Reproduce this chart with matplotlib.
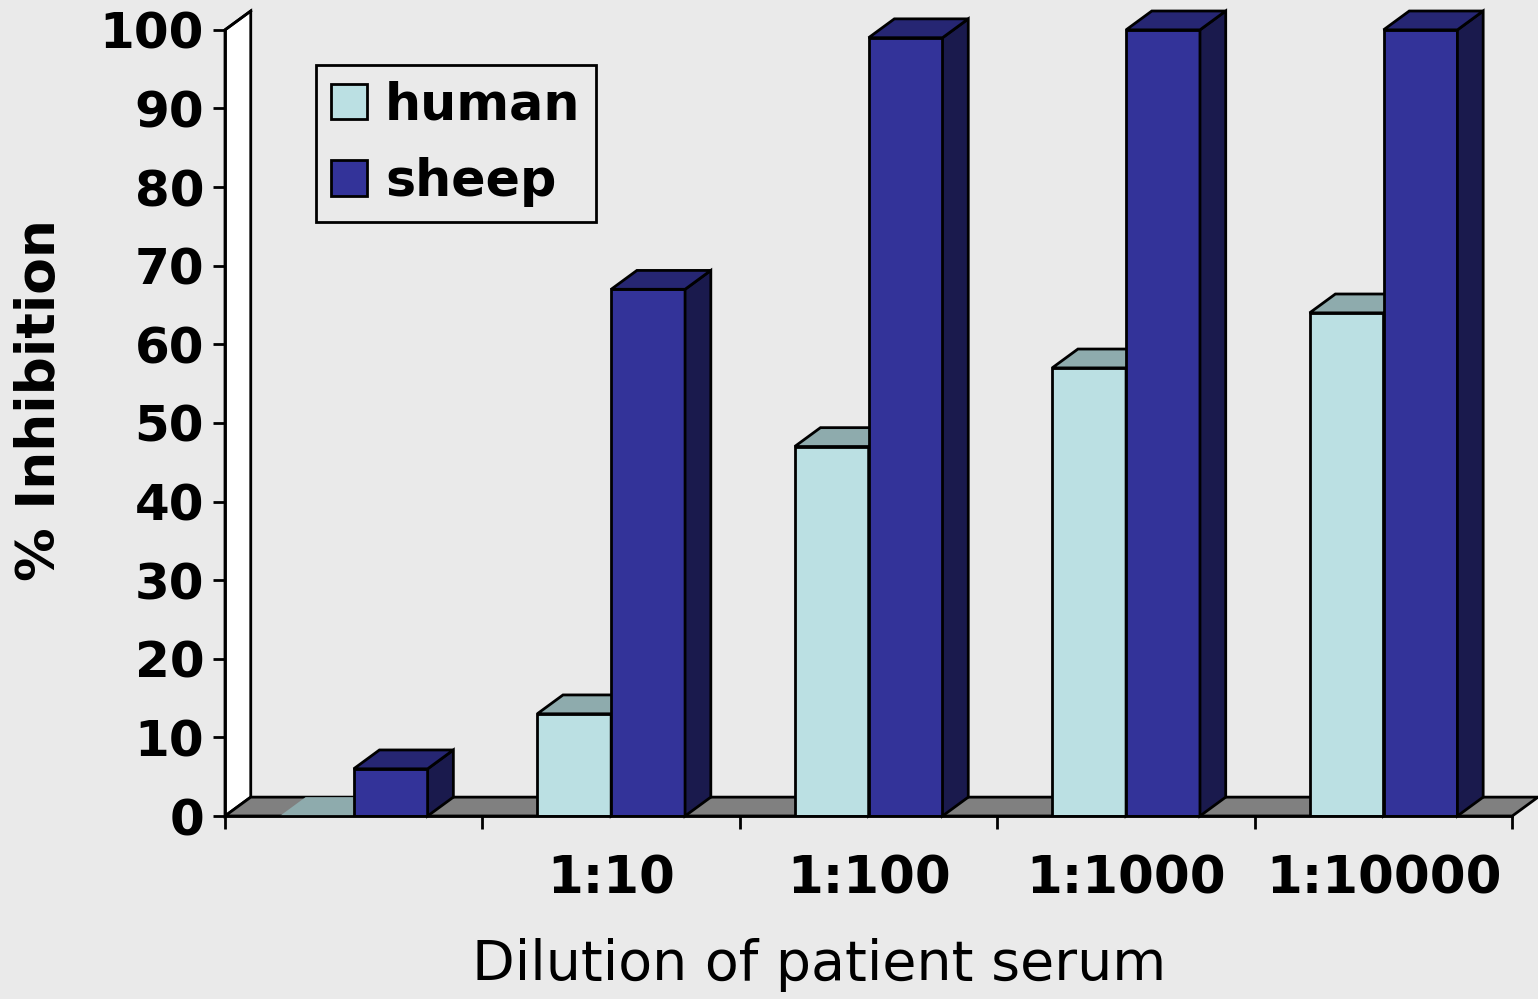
import matplotlib.pyplot as plt
from matplotlib.patches import Polygon, Patch
import numpy as np

categories = ['', '1:10', '1:100', '1:1000', '1:10000']
human = [0, 13, 47, 57, 64]
sheep = [6, 67, 99, 100, 100]

bg = '#EAEAEA'
human_front, human_top = '#BBE0E3', '#8EABAD'
sheep_front, sheep_top, sheep_side = '#333399', '#262673', '#1A1A4D'

# fake 3d depth (in data units)
dx, dy = 0.1, 2.4
w = 0.287
lw = 2

fig = plt.figure(figsize=(15.38, 9.99), dpi=100, facecolor=bg)
ax = fig.add_axes([225 / 1538, 183 / 999, 1313 / 1538, 805 / 999])
ax.set_facecolor(bg)
ax.set_xlim(-0.5, 4.6)
ax.set_ylim(0, 102.4)

# side wall and floor
ax.add_patch(Polygon([(-0.5, 0), (-0.5 + dx, dy), (-0.5 + dx, 100 + dy), (-0.5, 100)],
                     closed=True, facecolor='white', edgecolor='black', lw=lw, zorder=1, clip_on=False))
ax.add_patch(Polygon([(-0.5, 0), (4.5, 0), (4.5 + dx, dy), (-0.5 + dx, dy)],
                     closed=True, facecolor='#808080', edgecolor='black', lw=lw, zorder=1, clip_on=False))


def bar3d(xc, v, front, top, side, z):
    x0, x1 = xc - w / 2, xc + w / 2
    if v > 0:
        ax.bar(xc, v, w, color=front, edgecolor='black', lw=lw, zorder=z)
        ax.add_patch(Polygon([(x1, 0), (x1 + dx, dy), (x1 + dx, v + dy), (x1, v)],
                             closed=True, facecolor=side, edgecolor='black', lw=lw, zorder=z, clip_on=False))
    ax.add_patch(Polygon([(x0, v), (x0 + dx, v + dy), (x1 + dx, v + dy), (x1, v)],
                         closed=True, facecolor=top, edgecolor='black' if v > 0 else 'none',
                         lw=lw, zorder=z, clip_on=False))


x = np.arange(len(categories))
for i in x:
    bar3d(i - w / 2, human[i], human_front, human_top, human_top, 2 + i * 2)
    bar3d(i + w / 2, sheep[i], sheep_front, sheep_top, sheep_side, 3 + i * 2)

for s in ['top', 'right']:
    ax.spines[s].set_visible(False)
ax.spines['left'].set_bounds(0, 100)
ax.spines['bottom'].set_bounds(-0.5, 4.5)
for s in ['left', 'bottom']:
    ax.spines[s].set_linewidth(lw)
    ax.spines[s].set_zorder(20)
ax.plot([-0.5, -0.5 + dx], [100, 100 + dy], color='black', lw=lw, clip_on=False, zorder=20)

ax.set_yticks(range(0, 101, 10))
ax.tick_params(axis='y', length=9, width=lw, pad=6, labelsize=36)
for t in ax.get_yticklabels():
    t.set_fontweight('bold')

ax.set_xticks(np.arange(-0.5, 5, 1))
ax.set_xticklabels([])
ax.tick_params(axis='x', which='major', length=9, width=lw)
ax.set_xticks(x, minor=True)
ax.set_xticklabels(categories, minor=True, fontsize=37, fontweight='bold')
ax.tick_params(axis='x', which='minor', length=0, pad=28)

fig.text(819 / 1538, 1 - 965 / 999, 'Dilution of patient serum', fontsize=40,
         ha='center', va='center')
fig.text(40 / 1538, 1 - 400 / 999, '% Inhibition', fontsize=38.5, fontweight='bold',
         rotation=90, ha='center', va='center')

handles = [Patch(facecolor=human_front, edgecolor='black', lw=lw, label='human'),
           Patch(facecolor=sheep_front, edgecolor='black', lw=lw, label='sheep')]
leg = ax.legend(handles=handles, loc='upper left', bbox_to_anchor=(316 / 1538, 1 - 65 / 999),
                bbox_transform=fig.transFigure, borderaxespad=0, fancybox=False,
                facecolor=bg, edgecolor='black', framealpha=1,
                prop={'size': 36.5, 'weight': 'bold'}, handlelength=0.71, handleheight=0.71,
                handletextpad=0.35, labelspacing=0.53, borderpad=0.3)
leg.get_frame().set_linewidth(lw)
leg.set_zorder(30)

fig.savefig('out.png', dpi=100, facecolor=bg)
